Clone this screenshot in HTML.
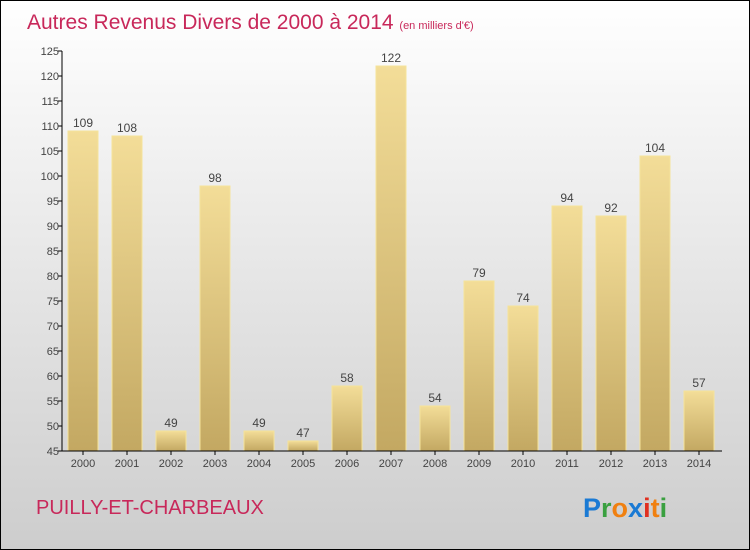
<!DOCTYPE html>
<html><head><meta charset="utf-8"><style>
body{margin:0}
#c{position:relative;width:748px;height:548px;border:1px solid #000;background:linear-gradient(#ffffff,#cdcdcd);font-family:"Liberation Sans",sans-serif;overflow:hidden}
</style></head><body>
<div id="c">
<svg width="748" height="548" id="s">
<defs><linearGradient id="g" x1="0" y1="0" x2="0" y2="1"><stop offset="0" stop-color="#f3dd98"/><stop offset="1" stop-color="#c3a862"/></linearGradient></defs>
<text x="26" y="28" font-size="21" fill="#c8285a">Autres Revenus Divers de 2000 à 2014 <tspan font-size="11">(en milliers d'€)</tspan></text>
<text x="35" y="513" font-size="20" fill="#c8285a">PUILLY-ET-CHARBEAUX</text>
<text x="582" y="516" font-size="27" font-weight="bold"><tspan fill="#1a7ad4">P</tspan><tspan fill="#3aa040">r</tspan><tspan fill="#f08010">o</tspan><tspan fill="#1a7ad4">x</tspan><tspan fill="#e03020">i</tspan><tspan fill="#f08010">t</tspan><tspan fill="#3aa040">i</tspan></text>
<g id="bars"></g><g id="axes"></g>
</svg></div>
<script>
const years=["2000","2001","2002","2003","2004","2005","2006","2007","2008","2009","2010","2011","2012","2013","2014"];
const values=[109,108,49,98,49,47,58,122,54,79,74,94,92,104,57];
const yTicks=[45,50,55,60,65,70,75,80,85,90,95,100,105,110,115,120,125];
const ns="http://www.w3.org/2000/svg";
const y=v=>450-(v-45)*5;
const x=i=>82+i*44;
function mk(t,a,p){const e=document.createElementNS(ns,t);for(const k in a)e.setAttribute(k,a[k]);p.appendChild(e);return e;}
const B=document.getElementById('bars'),A=document.getElementById('axes');
values.forEach((v,i)=>{
 const r=mk('rect',{x:x(i)-15,y:y(v),width:30,height:450-y(v),fill:'url(#g)',stroke:'#f5e39a','stroke-width':1},B);
 
 
 const t=mk('text',{x:x(i),y:y(v)-4,'text-anchor':'middle','font-size':12,fill:'#444'},B);t.textContent=v;
 
 
 const l=mk('text',{x:x(i),y:466,'text-anchor':'middle','font-size':11,fill:'#444'},A);l.textContent=years[i];
 
 
 mk('line',{x1:x(i),x2:x(i),y1:450,y2:454,stroke:'#000'},A);
});
yTicks.forEach(v=>{
 mk('line',{x1:57,x2:61,y1:y(v),y2:y(v),stroke:'#000'},A);
 const t=mk('text',{x:58,y:y(v)+4,'text-anchor':'end','font-size':11,fill:'#444'},A);t.textContent=v;
 
 
});
const ya=mk('line',{x1:61,x2:61,y1:50,y2:450,stroke:'#000'},A);


const xa=mk('line',{x1:61,x2:721,y1:450,y2:450,stroke:'#000'},A);


</script>
</body></html>
